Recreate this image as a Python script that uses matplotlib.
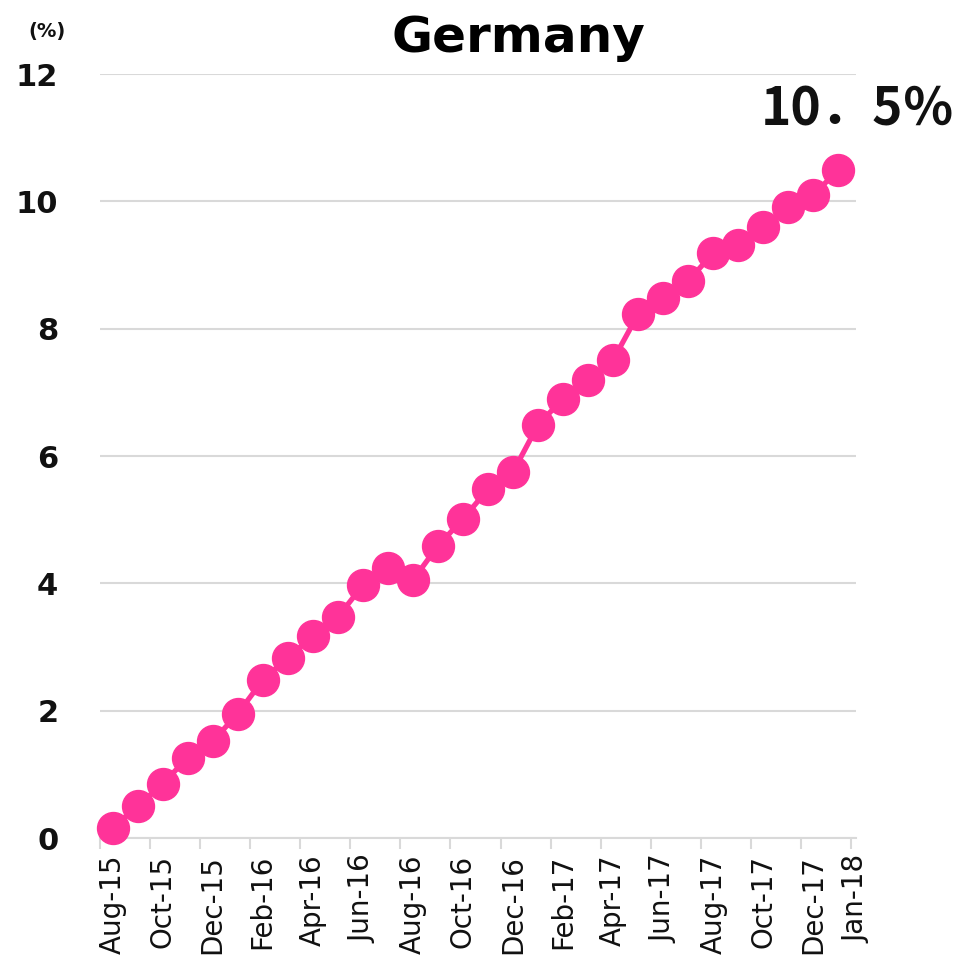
import numpy as np
import matplotlib
matplotlib.use("Agg")
import matplotlib.pyplot as plt

months = ["Aug-15", "Sep-15", "Oct-15", "Nov-15", "Dec-15", "Jan-16", "Feb-16", "Mar-16",
          "Apr-16", "May-16", "Jun-16", "Jul-16", "Aug-16", "Sep-16", "Oct-16", "Nov-16",
          "Dec-16", "Jan-17", "Feb-17", "Mar-17", "Apr-17", "May-17", "Jun-17", "Jul-17",
          "Aug-17", "Sep-17", "Oct-17", "Nov-17", "Dec-17", "Jan-18"]
values = [0.16, 0.5, 0.85, 1.26, 1.52, 1.95, 2.48, 2.83, 3.17, 3.47, 3.97, 4.24, 4.05, 4.59,
          5.01, 5.48, 5.75, 6.49, 6.9, 7.19, 7.51, 8.23, 8.48, 8.75, 9.19, 9.31, 9.6, 9.91,
          10.1, 10.5]
yticks = [0, 2, 4, 6, 8, 10, 12]

pink = "#ff3399"
dark = "#111111"

fig = plt.figure(figsize=(9.6, 9.66), dpi=100)
ax = fig.add_axes([100 / 960, 1 - 838 / 966, 756 / 960, (838 - 74) / 966])

x = np.arange(len(values))
ax.plot(x, values, color=pink, lw=3.8, marker="o", ms=23, zorder=3, clip_on=False)

ax.set_xlim(-0.5, len(values) - 0.5)
ax.set_ylim(0, 12)
ax.set_yticks(yticks)
ax.set_yticklabels([str(t) for t in yticks], fontsize=22, fontweight="bold", color=dark)
ax.tick_params(axis="y", length=0, pad=30)
ax.grid(axis="y", color="#d9d9d9", lw=1.5)
ax.set_axisbelow(True)

# tick marks every two months at the category boundaries
ax.set_xticks(np.arange(-0.5, len(values), 2))
ax.set_xticklabels([])
ax.tick_params(axis="x", which="major", length=8, color="#d9d9d9", width=1.5)
# labels centred on the categories
lab_pos = list(range(0, len(values) - 1, 2)) + [len(values) - 0.3]
lab_txt = [months[i] for i in range(0, len(values) - 1, 2)] + [months[-1]]
ax.set_xticks(lab_pos, minor=True)
ax.set_xticklabels(lab_txt, minor=True, rotation=90, fontsize=20, color=dark)
ax.tick_params(axis="x", which="minor", length=0, pad=12)

for s in ["left", "right", "top"]:
    ax.spines[s].set_visible(False)
ax.spines["bottom"].set_color("#d9d9d9")
ax.spines["bottom"].set_linewidth(1.5)

fig.text(518 / 960, 1 - 38 / 966, "Germany", ha="center", va="center",
         fontsize=36, fontweight="bold", color="black")
fig.text(47 / 960, 1 - 32 / 966, "(%)", ha="center", va="center",
         fontsize=14, fontweight="bold", color=dark)
fig.text(858 / 960, 1 - 110 / 966, "10．5％", ha="center", va="center",
         fontsize=37, fontweight="bold", color=dark,
         family=["Noto Sans CJK JP", "DejaVu Sans"])

fig.savefig("out.png", dpi=100, facecolor="white")
